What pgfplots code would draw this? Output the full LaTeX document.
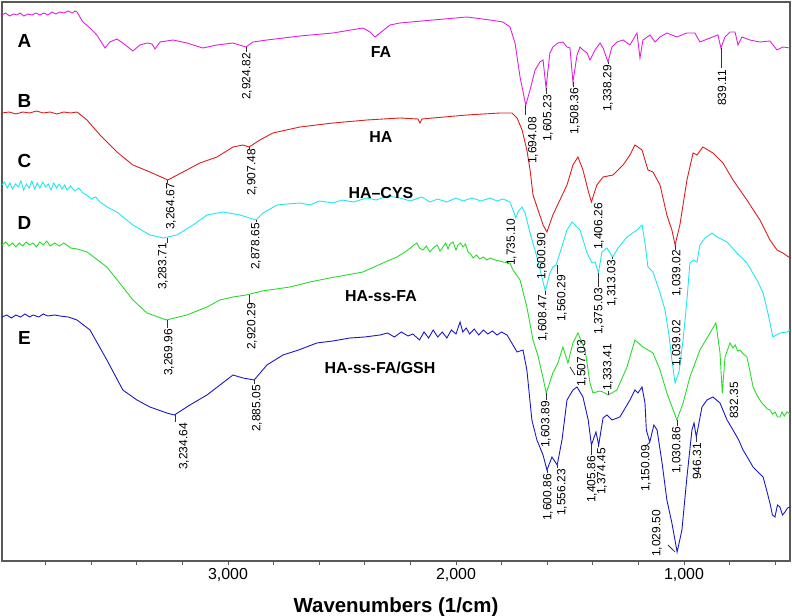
\documentclass[border=0pt]{standalone}
\usepackage{fontspec}
\setmainfont{Liberation Sans}
\usepackage{pgfplots}
\pgfplotsset{compat=1.18}
\definecolor{cA}{RGB}{224,32,224}
\definecolor{cB}{RGB}{222,30,30}
\definecolor{cC}{RGB}{32,230,240}
\definecolor{cD}{RGB}{40,220,40}
\definecolor{cE}{RGB}{24,24,200}
\tikzset{
 pk/.style={rotate=90,anchor=east,inner sep=0pt,font=\fontsize{12}{12}\selectfont},
 pkw/.style={rotate=90,anchor=west,inner sep=0pt,font=\fontsize{12}{12}\selectfont},
 pl/.style={draw=black!80,line width=0.8bp},
 let/.style={font=\fontsize{19}{19}\selectfont\bfseries,inner sep=0pt},
 nm/.style={font=\fontsize{16}{16}\selectfont\bfseries,inner sep=0pt}
}
\begin{document}
\begin{tikzpicture}
\begin{axis}[name=ax,
 scale only axis, width=788bp, height=559bp,
 x dir=reverse, xmin=535, xmax=3991, ymin=39, ymax=598,
 xtick={1000,2000,3000}, xticklabels={{1,000},{2,000},{3,000}},
 minor xtick={600,800,1200,1400,1600,1800,2200,2400,2600,2800,3200,3400,3600,3800},
 ytick=\empty, xtick pos=lower, tick align=outside,
 major tick length=4bp, minor tick length=4bp,
 tick style={black!65,line width=0.8bp},
 axis line style={draw=black!65,line width=1.6bp},
 xticklabel style={font=\fontsize{16}{16}\selectfont},
 xlabel={Wavenumbers (1/cm)},
 xlabel style={font=\fontsize{20.5}{20.5}\selectfont\bfseries, at={(axis description cs:0.5,0)}, anchor=base, yshift=-51bp},
 every axis plot/.append style={line width=0.9bp},
 clip=false]
% A: FA
\addplot[cA] coordinates {(3991,585)(3975,587)(3958,584)(3940,586)(3925,585)(3912,587)(3895,584)(3878,586)(3860,585)(3842,587)(3825,585)(3808,587)(3790,585)(3772,588)(3755,586)(3737,588)(3720,587)(3700,589)(3683,587)(3670,589)(3662,588)(3636,578)(3605,572)(3575,565)(3539,552)(3518,558)(3487,561)(3461,557)(3417,549)(3386,555)(3355,557)(3333,556)(3320,551)(3298,558)(3241,560)(3180,557)(3110,552)(3048,555)(2978,557)(2921,553)(2890,558)(2829,560)(2684,564)(2539,567)(2408,572)(2377,568)(2355,563)(2333,567)(2289,575)(2246,577)(2101,580)(1952,583)(1851,580)(1794,578)(1763,573)(1741,557)(1719,523)(1694,495)(1675,510)(1653,530)(1632,538)(1618,540)(1605,512)(1588,547)(1575,553)(1553,557)(1531,558)(1513,553)(1500,552)(1487,518)(1469,545)(1456,553)(1443,550)(1425,547)(1412,540)(1390,550)(1368,557)(1355,552)(1333,538)(1316,553)(1294,558)(1267,560)(1237,555)(1206,567)(1193,542)(1180,560)(1149,565)(1127,558)(1105,563)(1075,567)(1031,563)(987,567)(952,567)(930,558)(886,562)(851,565)(838,552)(820,563)(798,568)(776,568)(763,555)(746,563)(711,560)(667,558)(623,559)(592,550)(566,553)(535,552)};
% B: HA
\addplot[cB] coordinates {(3991,487)(3960,488)(3930,486)(3900,488)(3870,487)(3840,489)(3810,487)(3780,488)(3750,486)(3720,488)(3690,487)(3662,488)(3618,480)(3561,465)(3487,448)(3417,435)(3342,428)(3264,420)(3197,428)(3123,437)(3048,443)(2978,453)(2934,455)(2907,453)(2860,460)(2803,467)(2684,473)(2539,477)(2390,480)(2246,482)(2167,481)(2158,477)(2149,481)(2101,482)(1952,485)(1807,487)(1754,487)(1732,482)(1710,470)(1689,450)(1675,430)(1662,405)(1640,390)(1618,375)(1601,368)(1575,385)(1544,400)(1513,415)(1487,435)(1465,443)(1443,430)(1421,410)(1406,398)(1382,415)(1355,423)(1311,425)(1267,435)(1237,445)(1215,455)(1184,450)(1158,430)(1136,428)(1105,415)(1075,385)(1053,370)(1039,355)(1018,375)(987,420)(960,447)(943,445)(917,453)(873,447)(829,437)(785,420)(724,400)(667,380)(623,360)(592,350)(566,347)(535,342)};
% C: HA-CYS
\addplot[cC] coordinates {(3991,415)(3980,418)(3968,412)(3956,417)(3945,411)(3932,416)(3920,413)(3908,419)(3896,410)(3884,416)(3872,412)(3860,419)(3848,411)(3836,417)(3825,412)(3812,418)(3800,413)(3788,416)(3776,410)(3764,417)(3752,412)(3740,416)(3728,411)(3716,415)(3706,410)(3690,414)(3672,409)(3655,412)(3636,407)(3620,405)(3600,401)(3580,403)(3561,398)(3530,393)(3487,388)(3417,375)(3342,365)(3283,362)(3224,365)(3153,375)(3092,385)(3022,388)(2947,385)(2877,380)(2846,387)(2785,395)(2740,396)(2684,397)(2640,395)(2600,399)(2539,397)(2500,400)(2450,398)(2390,402)(2350,400)(2300,404)(2246,402)(2200,399)(2150,403)(2114,398)(2080,401)(2040,398)(2000,402)(1969,399)(1930,402)(1890,399)(1850,402)(1820,399)(1794,401)(1763,398)(1737,382)(1728,388)(1710,393)(1697,387)(1675,367)(1645,343)(1608,309)(1588,327)(1575,333)(1561,335)(1544,347)(1513,370)(1491,378)(1456,370)(1425,347)(1403,337)(1390,338)(1375,327)(1360,348)(1338,352)(1313,343)(1289,352)(1250,363)(1206,370)(1184,375)(1171,357)(1158,333)(1136,328)(1105,307)(1083,290)(1066,265)(1053,240)(1039,217)(1022,228)(1004,260)(987,300)(974,337)(960,340)(943,338)(930,355)(908,362)(877,367)(855,363)(811,358)(768,347)(724,337)(680,320)(653,307)(632,287)(610,263)(579,267)(548,268)(535,270)};
% D: HA-ss-FA
\addplot[cD] coordinates {(3991,355)(3975,358)(3960,354)(3945,357)(3930,353)(3915,357)(3900,354)(3885,358)(3870,355)(3855,357)(3840,353)(3825,358)(3810,355)(3795,359)(3780,354)(3760,357)(3740,354)(3720,357)(3706,355)(3690,352)(3660,351)(3618,348)(3531,333)(3461,313)(3417,300)(3355,287)(3270,280)(3180,285)(3092,293)(3035,300)(2978,303)(2920,305)(2850,309)(2728,313)(2640,318)(2553,322)(2480,325)(2408,328)(2330,336)(2259,343)(2230,347)(2200,352)(2185,355)(2171,357)(2160,352)(2145,350)(2130,354)(2114,348)(2100,352)(2083,355)(2070,349)(2057,353)(2045,357)(2035,351)(2026,356)(2013,358)(2000,350)(1991,355)(1980,357)(1969,353)(1958,356)(1947,348)(1936,346)(1925,342)(1910,345)(1895,341)(1880,343)(1864,340)(1850,342)(1829,340)(1810,339)(1794,338)(1763,337)(1750,330)(1719,320)(1689,293)(1662,260)(1640,244)(1618,222)(1604,207)(1575,227)(1553,237)(1531,253)(1509,237)(1487,257)(1465,267)(1434,250)(1412,217)(1399,207)(1370,209)(1355,208)(1333,205)(1294,210)(1250,233)(1215,260)(1180,253)(1136,247)(1105,230)(1075,207)(1031,180)(1004,197)(974,223)(930,250)(886,267)(860,277)(842,247)(832,207)(820,243)(798,257)(785,252)(775,255)(765,249)(754,250)(740,246)(724,243)(710,228)(697,213)(680,205)(667,200)(655,196)(645,194)(635,191)(623,190)(612,186)(600,188)(590,183)(579,183)(570,188)(560,184)(548,188)(535,186)};
% E: HA-ss-FA/GSH
\addplot[cE] coordinates {(3991,283)(3970,285)(3950,282)(3930,285)(3910,283)(3890,286)(3870,283)(3855,285)(3830,283)(3810,286)(3790,284)(3760,285)(3737,284)(3700,283)(3662,280)(3605,270)(3531,240)(3461,210)(3399,200)(3342,193)(3268,187)(3235,185)(3167,195)(3092,205)(3035,215)(2978,225)(2934,222)(2885,220)(2829,235)(2759,245)(2690,250)(2610,257)(2540,259)(2465,262)(2400,263)(2333,265)(2300,267)(2270,263)(2240,268)(2210,264)(2189,266)(2160,260)(2140,268)(2120,262)(2100,270)(2080,263)(2060,268)(2040,262)(2020,270)(2000,266)(1982,278)(1970,268)(1955,272)(1940,266)(1920,271)(1900,265)(1880,270)(1860,266)(1840,269)(1820,265)(1800,268)(1776,265)(1750,255)(1732,248)(1706,250)(1689,230)(1667,180)(1645,160)(1618,145)(1601,130)(1579,143)(1556,135)(1535,160)(1513,200)(1487,210)(1469,213)(1443,203)(1420,180)(1406,155)(1386,168)(1374,155)(1355,182)(1338,185)(1316,180)(1281,183)(1237,200)(1215,210)(1202,207)(1184,213)(1171,197)(1165,170)(1150,158)(1132,175)(1118,170)(1096,137)(1075,100)(1053,77)(1030,48)(1009,70)(987,123)(965,170)(956,177)(946,163)(921,193)(899,200)(873,203)(842,197)(811,180)(785,170)(760,160)(741,150)(720,142)(697,133)(675,128)(653,123)(640,112)(623,97)(612,85)(601,83)(590,95)(579,93)(568,85)(557,88)(546,92)(535,93)};
% letters
\node[let] at (axis cs:3893,559) {A};
\node[let] at (axis cs:3893,499) {B};
\node[let] at (axis cs:3893,439) {C};
\node[let] at (axis cs:3893,377) {D};
\node[let] at (axis cs:3893,262) {E};
% names
\node[nm] at (axis cs:2329,548) {FA};
\node[nm] at (axis cs:2329,463) {HA};
\node[nm] at (axis cs:2329,407) {HA--CYS};
\node[nm] at (axis cs:2329,304) {HA-ss-FA};
\node[nm] at (axis cs:2333,232) {HA-ss-FA/GSH};
% A peaks
\draw[pl] (axis cs:2921,553) -- (axis cs:2921,548); \node[pk] at (axis cs:2917,547) {2,924.82};
\draw[pl] (axis cs:1694,495) -- (axis cs:1694,485); \node[pk] at (axis cs:1662,483) {1,694.08};
\draw[pl] (axis cs:1605,512) -- (axis cs:1605,506); \node[pk] at (axis cs:1596,505) {1,605.23};
\draw[pl] (axis cs:1487,518) -- (axis cs:1487,513); \node[pk] at (axis cs:1478,512) {1,508.36};
\draw[pl] (axis cs:1333,538) -- (axis cs:1333,536); \node[pk] at (axis cs:1333,535) {1,338.29};
\draw[pl] (axis cs:838,552) -- (axis cs:838,532); \node[pk] at (axis cs:833,530) {839.11};
% B peaks
\draw[pl] (axis cs:3264,420) -- (axis cs:3264,417); \node[pk] at (axis cs:3250,417) {3,264.67};
\draw[pl] (axis cs:2907,453) -- (axis cs:2907,451); \node[pk] at (axis cs:2895,451) {2,907.48};
\node[pk] at (axis cs:1623,367) {1,600.90};
\node[pk] at (axis cs:1373,397) {1,406.26};
\draw[pl] (axis cs:1039,355) -- (axis cs:1039,350); \node[pk] at (axis cs:1031,350) {1,039.02};
% C peaks
\draw[pl] (axis cs:3265,362) -- (axis cs:3265,357); \node[pk] at (axis cs:3285,357) {3,283.71};
\draw[pl] (axis cs:2877,380) -- (axis cs:2877,378); \node[pk] at (axis cs:2877,377) {2,878.65};
\node[pk] at (axis cs:1757,381) {1,735.10};
\draw[pl] (axis cs:1608,309) -- (axis cs:1608,305); \node[pk] at (axis cs:1618,305) {1,608.47};
\draw[pl] (axis cs:1555,335) -- (axis cs:1555,326); \node[pk] at (axis cs:1535,325) {1,560.29};
\draw[pl] (axis cs:1377,327) -- (axis cs:1377,313); \node[pk] at (axis cs:1373,312) {1,375.03};
\draw[pl] (axis cs:1313,343) -- (axis cs:1313,341); \node[pk] at (axis cs:1316,340) {1,313.03};
\node[pkw] at (axis cs:1031,233) {1,039.02};
% D peaks
\draw[pl] (axis cs:3265,280) -- (axis cs:3265,272); \node[pk] at (axis cs:3259,271) {3,269.96};
\draw[pl] (axis cs:2905,305) -- (axis cs:2905,297); \node[pk] at (axis cs:2895,297) {2,920.29};
\draw[pl] (axis cs:1604,207) -- (axis cs:1604,200); \node[pk] at (axis cs:1605,199) {1,603.89};
\draw[pl] (axis cs:1500,233) -- (axis cs:1478,225); \node[pk] at (axis cs:1447,260) {1,507.03};
\draw[pl] (axis cs:1333,205) -- (axis cs:1333,209); \node[pkw] at (axis cs:1333,209) {1,333.41};
\draw[pl] (axis cs:1031,180) -- (axis cs:1031,174); \node[pk] at (axis cs:1031,173) {1,030.86};
\node[pk] at (axis cs:781,218) {832.35};
% E peaks
\draw[pl] (axis cs:3232,185) -- (axis cs:3232,178); \node[pk] at (axis cs:3193,177) {3,234.64};
\draw[pl] (axis cs:2885,220) -- (axis cs:2885,216); \node[pk] at (axis cs:2873,215) {2,885.05};
\draw[pl] (axis cs:1601,130) -- (axis cs:1601,127); \node[pk] at (axis cs:1596,126) {1,600.86};
\draw[pl] (axis cs:1556,135) -- (axis cs:1556,132); \node[pk] at (axis cs:1535,131) {1,556.23};
\draw[pl] (axis cs:1406,155) -- (axis cs:1406,145); \node[pk] at (axis cs:1403,144) {1,405.86};
\draw[pl] (axis cs:1374,155) -- (axis cs:1374,153); \node[pk] at (axis cs:1360,152) {1,374.45};
\draw[pl] (axis cs:1150,158) -- (axis cs:1162,155); \node[pk] at (axis cs:1167,155) {1,150.09};
\draw[pl] (axis cs:1039,48) -- (axis cs:1070,55); \node[pkw] at (axis cs:1118,43) {1,029.50};
\draw[pl] (axis cs:946,163) -- (axis cs:946,158); \node[pk] at (axis cs:943,157) {946.31};
\end{axis}
\pgfresetboundingbox
\path[use as bounding box] ([shift={(-2bp,-55bp)}]ax.south west) rectangle ([shift={(2bp,2bp)}]ax.north east);
\end{tikzpicture}
\end{document}
